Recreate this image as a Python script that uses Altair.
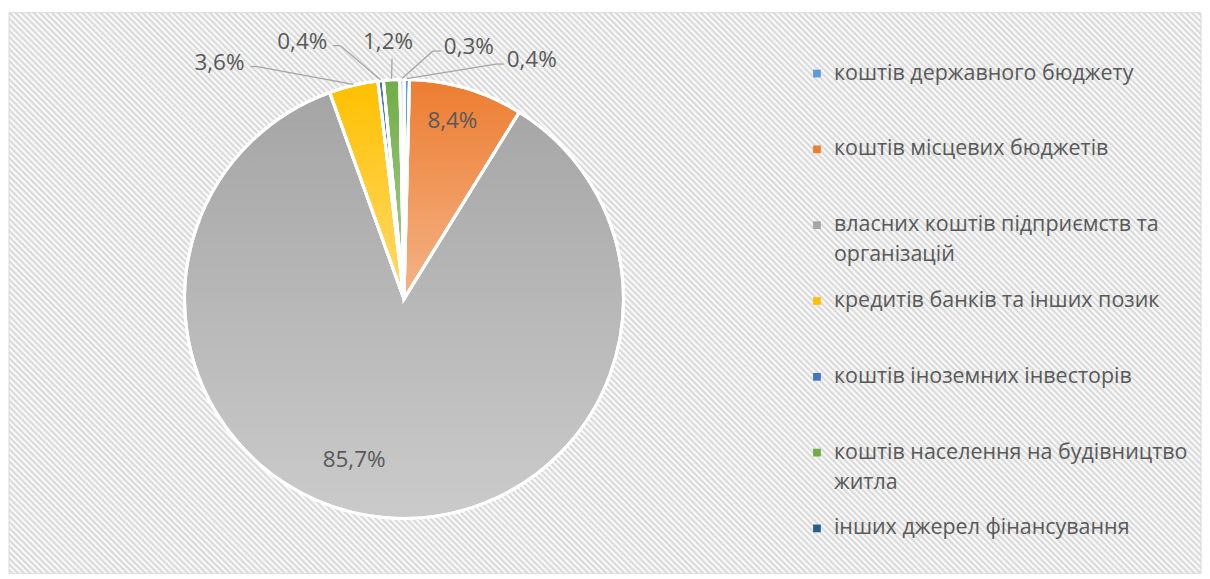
import math
import altair as alt
import pandas as pd

# ---------------- data ----------------
categories = [
    "коштів державного бюджету",
    "коштів місцевих бюджетів",
    "власних коштів підприємств та організацій",
    "кредитів банків та інших позик",
    "коштів іноземних інвесторів",
    "коштів населення на будівництво житла",
    "інших джерел фінансування",
]
legend_line1 = [
    "коштів державного бюджету",
    "коштів місцевих бюджетів",
    "власних коштів підприємств та",
    "кредитів банків та інших позик",
    "коштів іноземних інвесторів",
    "коштів населення на будівництво",
    "інших джерел фінансування",
]
legend_line2 = ["", "", "організацій", "", "", "житла", ""]
shares = [0.4, 8.4, 85.7, 3.6, 0.4, 1.2, 0.3]
colors = ["#5B9BD5", "#ED7D31", "#A5A5A5", "#FFC000", "#4472C4", "#70AD47", "#255E91"]

# ---------------- layout (pixels, not data) ----------------
W, H = 1195, 562
CX, CY, R = 396, 287, 220
label_x = [524, 444.5, 346, 211, 294, 380, 461]
label_y = [47.5, 109, 448, 50, 29, 29, 34.5]
label_side = ["left", "in", "in", "right", "right", "below", "left"]
LEG_SYM_X, LEG_TXT_X, LEG_Y0, LEG_STEP = 810, 827, 61, 76
FONT = "Open Sans"
TXT = "#595959"

idx = list(range(len(categories)))
labels = [f"{v:.1f}".replace(".", ",") + "%" for v in shares]

df = pd.DataFrame({"idx": idx, "cat": categories, "share": shares, "lab": labels,
                   "lx": label_x, "ly": label_y, "side": label_side})
df_leg = pd.DataFrame({"idx": idx, "cat": categories, "l1": legend_line1, "l2": legend_line2})

color_scale = alt.Scale(domain=categories, range=colors)

# background hatch (diagonal stripes via many-stop gradient)
ratio = H / W
k = (1 + ratio) / (1 + ratio ** 2)
D = (W + H) / math.sqrt(2)
N = int(round(D / 4.3))
stops = []
for i in range(2 * N + 1):
    stops.append(alt.GradientStop(offset=i / (2 * N), color="#ffffff" if i % 2 == 0 else "#d4d4d4"))
hatch = alt.LinearGradient(gradient="linear", stops=stops, x1=0, y1=1, x2=k, y2=1 - k * ratio)

bg = alt.Chart(pd.DataFrame({"a": [0]})).mark_rect(
    fill=hatch, stroke="#d9d9d9", strokeWidth=1
).encode(x=alt.value(0), x2=alt.value(W), y=alt.value(0), y2=alt.value(H))

base = alt.Chart(df)

pie = base.mark_arc(radius=R, stroke="white", strokeWidth=3).encode(
    theta=alt.Theta("share:Q", stack=True),
    order=alt.Order("idx:Q"),
    color=alt.Color("cat:N", scale=color_scale, legend=None),
    x=alt.value(CX), y=alt.value(CY),
)

shade = alt.LinearGradient(
    gradient="linear",
    stops=[alt.GradientStop(offset=0, color="rgba(255,255,255,0)"),
           alt.GradientStop(offset=1, color="rgba(255,255,255,0.42)")],
    x1=0, y1=0, x2=0, y2=1,
)
pie_shade = base.mark_arc(radius=R, stroke="white", strokeWidth=3, fill=shade).encode(
    theta=alt.Theta("share:Q", stack=True),
    order=alt.Order("idx:Q"),
    x=alt.value(CX), y=alt.value(CY),
)

geo = base.transform_window(
    cum="sum(share)", sort=[alt.SortField("idx")]
).transform_joinaggregate(total="sum(share)").transform_calculate(
    mid="(datum.cum - datum.share/2) / datum.total * 2 * PI",
    ex=f"{CX} + {R + 1} * sin(datum.mid)",
    ey=f"{CY} - {R + 1} * cos(datum.mid)",
    sx="datum.side == 'left' ? datum.lx - 28 : (datum.side == 'right' ? datum.lx + 31 : datum.lx + 4)",
    kx="datum.side == 'left' ? datum.lx - 36 : (datum.side == 'right' ? datum.lx + 38 : datum.lx + 4)",
    sy="datum.side == 'below' ? datum.ly + 17 : datum.ly + 4",
).transform_filter("datum.side != 'in'")

stub = geo.mark_rule(color="#a6a6a6", strokeWidth=1.3).encode(
    x=alt.X("sx:Q", scale=None), y=alt.Y("sy:Q", scale=None),
    x2="kx:Q", y2="sy:Q",
)
leader = geo.mark_rule(color="#a6a6a6", strokeWidth=1.3).encode(
    x=alt.X("kx:Q", scale=None), y=alt.Y("sy:Q", scale=None),
    x2="ex:Q", y2="ey:Q",
)

texts = base.mark_text(font=FONT, fontSize=22.5, color=TXT, align="center", baseline="middle").encode(
    x=alt.X("lx:Q", scale=None), y=alt.Y("ly:Q", scale=None), text="lab:N"
)

leg = alt.Chart(df_leg).transform_calculate(
    yy=f"{LEG_Y0} + datum.idx * {LEG_STEP}"
)
leg_sym = leg.mark_square(size=60, opacity=1).encode(
    x=alt.value(LEG_SYM_X), y=alt.Y("yy:Q", scale=None),
    color=alt.Color("cat:N", scale=color_scale, legend=None),
)
leg_t1 = leg.mark_text(font=FONT, fontSize=21.5, color=TXT, align="left", baseline="middle").encode(
    x=alt.value(LEG_TXT_X), y=alt.Y("yy:Q", scale=None), text="l1:N"
)
leg_t2 = leg.mark_text(font=FONT, fontSize=21.5, color=TXT, align="left", baseline="middle", dy=30).encode(
    x=alt.value(LEG_TXT_X), y=alt.Y("yy:Q", scale=None), text="l2:N"
)

chart = alt.layer(bg, pie, pie_shade, stub, leader, texts, leg_sym, leg_t1, leg_t2).properties(
    width=W, height=H, padding={"left": 0, "top": 3, "right": 0, "bottom": 0}
).configure_view(strokeWidth=0)

chart.save("out.html", embed_options={"renderer": "svg", "actions": False})
